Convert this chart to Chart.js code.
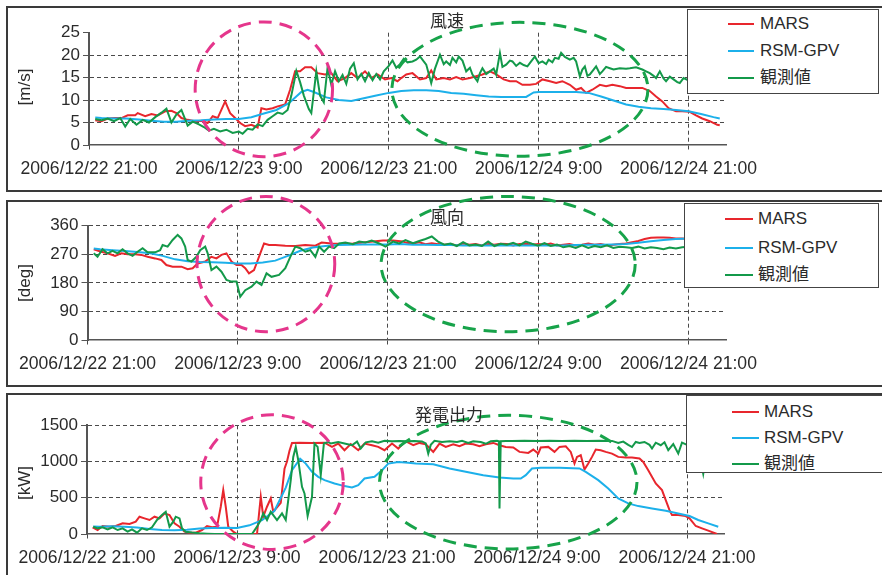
<!DOCTYPE html>
<html>
<head>
<meta charset="utf-8">
<script src="https://cdn.jsdelivr.net/npm/chart.js@4.4.0/dist/chart.umd.min.js"></script>
<style>
body { margin: 0; width: 882px; height: 575px; overflow: hidden; background: #fff; position: relative;
       font-family: "Liberation Sans", "Noto Sans CJK JP", sans-serif; color: #2b2b2b; }
.frame { position: absolute; left: 6px; width: 920px; border: 2px solid #3a3a3a; box-sizing: border-box; z-index: 0; }
canvas { position: absolute; left: 0; top: 0; z-index: 1; }
.title { position: absolute; font-family: "Noto Sans CJK JP", sans-serif; font-size: 17px; line-height: 20px; white-space: nowrap; z-index: 2; }
.unit { position: absolute; font-size: 17px; line-height: 20px; white-space: nowrap; transform: translate(-50%, -50%) rotate(-90deg); z-index: 2; }
.legend { position: absolute; background: #fff; border: 1.5px solid #444; box-sizing: border-box; z-index: 3; }
.legend .sw { position: absolute; height: 2.5px; }
.legend .lb { position: absolute; font-size: 17px; line-height: 20px; white-space: nowrap; }
</style>
</head>
<body>
<div class="frame" style="top:6px;height:186px"></div>
<div class="frame" style="top:200px;height:187px"></div>
<div class="frame" style="top:393px;height:200px"></div>
<canvas id="c1" width="882" height="575"></canvas>
<canvas id="c2" width="882" height="575"></canvas>
<canvas id="c3" width="882" height="575"></canvas>
<script>
// x = hours after 2006/12/22 21:00
const xTickHours = [0, 12, 24, 36, 48];
const xTickLabels = ['2006/12/22 21:00', '2006/12/23 9:00', '2006/12/23 21:00', '2006/12/24 9:00', '2006/12/24 21:00'];
const seriesNames = ['MARS', 'RSM-GPV', '観測値'];
const seriesColors = ['#e8262d', '#1cb0ea', '#13994a'];

// 風速 [m/s]
const speedTicks = [0, 5, 10, 15, 20, 25];
const marsSpeed = [[0.5,5.5],[1.0,5.3],[1.5,5.9],[2.1,6.0],[2.6,6.0],[3.1,6.6],[3.7,6.6],[3.9,7.1],[4.5,6.4],[5.0,6.9],[5.5,6.6],[6.1,7.5],[6.6,7.6],[7.0,7.1],[7.4,6.0],[7.9,5.6],[8.5,5.3],[9.0,5.4],[9.5,4.9],[9.9,6.4],[10.3,6.0],[10.9,9.7],[11.3,7.1],[11.7,6.0],[12.1,4.9],[12.5,4.2],[13.0,4.5],[13.5,3.9],[13.8,8.2],[14.2,7.9],[14.7,8.2],[15.1,8.6],[15.7,9.0],[16.1,12.3],[16.5,16.4],[16.9,16.4],[17.3,17.3],[17.8,17.3],[18.3,16.0],[18.9,15.7],[19.4,16.0],[19.9,14.2],[20.5,14.9],[21.0,16.0],[21.5,14.9],[22.1,16.4],[22.6,14.9],[23.1,15.7],[23.7,14.6],[24.2,14.9],[24.7,14.2],[25.0,14.9],[25.4,15.7],[25.9,16.0],[26.5,14.6],[27.0,14.9],[27.4,16.6],[27.8,14.6],[28.4,14.9],[28.9,14.6],[29.4,15.1],[29.9,14.6],[30.5,14.9],[31.0,15.3],[31.5,15.7],[32.1,16.4],[32.6,15.7],[33.2,14.6],[33.7,14.2],[34.2,14.2],[34.7,13.4],[35.3,13.4],[35.8,13.6],[36.3,14.6],[36.9,14.2],[37.4,13.8],[37.9,14.2],[38.5,13.4],[39.0,12.3],[39.4,12.7],[39.8,11.6],[40.3,12.3],[40.9,13.4],[41.4,13.1],[41.9,13.4],[42.5,13.1],[43.0,12.7],[43.5,12.7],[44.3,12.7],[44.9,12.0],[45.4,10.8],[45.9,9.7],[46.4,8.2],[47.0,7.5],[47.5,7.5],[48.1,7.4],[48.6,6.6],[49.1,5.9],[49.7,5.3],[50.3,4.5],[50.5,4.4]];
const rsmSpeed = [[0.5,6.1],[1,6.0],[2,5.9],[3,5.9],[4,5.7],[5,5.4],[6,5.2],[7,5.2],[8,5.4],[9,5.5],[10,5.7],[11,5.8],[12,5.8],[13,6.2],[14,7.0],[15,7.8],[16,9.3],[17,11.8],[17.5,12.3],[18,11.8],[19,10.6],[20,10.0],[21,9.8],[22,10.4],[23,11.0],[24,11.6],[25,12.0],[26,12.2],[27,12.2],[28,12.0],[29,11.6],[30,11.4],[31,11.1],[32,10.8],[33,10.7],[34,10.7],[35,10.7],[35.6,11.7],[36,11.8],[37,11.8],[38,11.8],[39,11.8],[40,11.6],[41,10.8],[42,9.9],[43,9.0],[44,8.5],[45,8.2],[46,8.0],[47,7.8],[48,7.5],[49,6.9],[50,6.2],[50.5,5.9]];
const obsSpeed = [[0.5,5.8],[1,5.5],[1.5,5.9],[2,5.3],[2.5,6.0],[2.9,4.1],[3.3,5.8],[3.8,4.5],[4.3,5.6],[4.8,5.0],[5.3,6.2],[5.8,7.2],[6.2,8.1],[6.6,5.0],[7.0,6.8],[7.4,7.8],[7.9,4.3],[8.3,5.2],[8.8,4.6],[9.2,4.0],[9.6,3.2],[10.0,3.6],[10.5,3.0],[11.0,3.4],[11.5,2.7],[12.0,3.0],[12.3,2.5],[12.7,3.6],[13.1,3.4],[13.5,4.6],[13.9,4.2],[14.3,5.6],[14.7,6.4],[15.1,7.2],[15.5,6.9],[15.9,7.8],[16.2,11.0],[16.6,16.5],[16.9,14.0],[17.2,11.0],[17.6,8.0],[17.8,7.1],[18.2,16.4],[18.5,11.0],[18.8,9.5],[19.1,17.2],[19.4,13.4],[19.7,16.4],[20.0,14.2],[20.3,15.6],[20.6,13.6],[20.9,17.0],[21.2,18.2],[21.5,14.6],[21.8,15.8],[22.1,14.2],[22.4,16.0],[22.7,14.4],[23.0,15.8],[23.3,14.6],[23.6,16.4],[24.0,17.6],[24.3,18.8],[24.6,17.2],[24.9,18.0],[25.2,19.2],[25.5,18.4],[25.9,18.6],[26.2,19.0],[26.5,19.7],[26.8,18.6],[27.0,17.9],[27.4,13.8],[27.7,17.0],[28.1,20.1],[28.4,18.0],[28.6,18.6],[28.9,17.8],[29.1,19.4],[29.4,18.4],[29.6,19.7],[29.9,18.8],[30.2,16.4],[30.5,17.2],[30.7,15.7],[31.1,14.2],[31.3,16.0],[31.5,17.1],[31.8,15.8],[32.1,16.4],[32.4,17.0],[32.6,15.7],[32.9,20.5],[33.1,17.4],[33.4,17.9],[33.7,18.8],[33.9,18.6],[34.2,17.6],[34.5,18.3],[34.8,17.8],[35.1,17.5],[35.4,18.6],[35.7,19.7],[36.0,18.2],[36.3,18.6],[36.6,18.0],[36.8,19.0],[37.1,18.4],[37.3,19.4],[37.6,19.2],[37.8,20.5],[38.1,19.6],[38.5,19.0],[38.8,19.4],[39.0,18.6],[39.3,15.3],[39.5,16.8],[39.7,17.5],[39.9,15.4],[40.1,15.7],[40.4,16.8],[40.6,17.5],[40.9,15.8],[41.1,16.4],[41.4,17.4],[41.7,17.1],[42.0,16.8],[42.5,17.1],[43.0,17.0],[43.3,17.1],[43.8,17.3],[44.3,16.8],[44.6,16.4],[44.9,16.0],[45.2,15.4],[45.4,14.9],[45.7,16.4],[46.0,14.8],[46.2,14.2],[46.5,15.2],[46.8,14.6],[47.1,14.0],[47.3,13.8],[47.6,14.9],[48.0,14.4],[48.5,14.8],[49.0,14.2],[49.5,14.6],[50.0,14.0],[50.5,14.3]];

// 風向 [deg]
const dirTicks = [0, 90, 180, 270, 360];
const marsDir = [[0.5,286],[1.1,278],[1.6,273],[2.2,265],[2.7,273],[3.2,270],[3.8,270],[4.3,268],[4.8,262],[5.4,257],[5.9,252],[6.3,236],[6.8,231],[7.5,231],[8.0,223],[8.4,226],[8.8,241],[9.4,247],[9.9,262],[10.3,257],[10.7,268],[11.1,273],[11.5,247],[11.9,236],[12.3,236],[12.6,226],[12.9,210],[13.3,220],[13.5,241],[13.8,273],[14.1,304],[14.5,299],[15.0,299],[15.8,297],[16.6,296],[17.4,299],[18.2,297],[18.7,307],[19.5,304],[20.3,302],[21.2,304],[22.0,307],[22.8,310],[23.6,313],[24.4,313],[25.2,310],[25.5,306],[26,304],[26.5,308],[27,302],[27.5,305],[28,302],[28.5,300],[29,302],[29.5,298],[30,304],[30.5,300],[31,302],[31.5,298],[32,302],[32.5,300],[33,303],[33.5,302],[34,298],[34.5,302],[35,303],[35.5,300],[36,302],[36.5,300],[37,304],[37.5,298],[38,300],[38.5,302],[39,298],[39.5,300],[40,304],[40.5,300],[41,302],[41.5,298],[42,300],[42.5,302],[43,304],[43.5,308],[44,312],[44.5,318],[45,322],[45.5,323],[46,323],[46.5,322],[47,320],[47.5,320],[48,318],[48.5,318],[49,318],[49.5,317],[50,317],[50.5,316]];
const rsmDir = [[0.5,288],[1,286],[2,283],[3,280],[4,277],[5,273],[6,265],[7,254],[8,248],[9,246],[10,245],[11,243],[12,241],[13,241],[14,244],[15,250],[16,265],[17,281],[18,291],[19,296],[20,299],[21,300],[22,301],[23,301],[24,301],[25,302],[26,300],[27,300],[28,299],[29,299],[30,298],[31,298],[32,298],[33,298],[34,298],[35,298],[36,298],[37,298],[38,298],[39,299],[40,300],[41,300],[42,301],[43,302],[44,306],[45,311],[46,315],[47,318],[48,320],[49,321],[50,321],[50.5,321]];
const obsDir = [[0.5,273],[0.8,262],[1.2,286],[1.6,273],[2.0,281],[2.4,273],[2.8,286],[3.2,273],[3.6,265],[4.0,278],[4.4,289],[4.8,276],[5.4,276],[5.8,283],[6.0,299],[6.4,294],[6.8,315],[7.2,331],[7.5,320],[7.8,294],[8.0,252],[8.3,247],[8.7,262],[9.0,283],[9.4,294],[9.6,273],[9.9,220],[10.3,231],[10.7,215],[11.1,189],[11.5,184],[11.9,184],[12.2,136],[12.6,157],[13.1,168],[13.5,184],[13.9,173],[14.3,210],[14.7,199],[15.3,205],[15.8,226],[16.2,262],[16.6,294],[17.0,289],[17.4,278],[17.8,283],[18.2,262],[18.5,294],[18.9,278],[19.3,294],[19.7,289],[20.1,304],[20.6,307],[21.2,302],[21.7,310],[22.2,307],[22.7,313],[23.3,304],[23.8,294],[24.4,310],[24.9,304],[25.4,315],[26.0,305],[26.5,312],[27.0,318],[27.5,326],[28.0,310],[28.5,300],[29.0,304],[29.5,296],[30.0,308],[30.5,298],[31.0,301],[31.5,296],[32.0,310],[32.5,296],[33.0,303],[33.5,300],[34.0,306],[34.5,298],[35.0,310],[35.5,303],[36.0,297],[36.5,305],[37.0,296],[37.5,301],[38.0,292],[38.5,296],[39.0,290],[39.5,298],[40.0,290],[40.5,296],[41.0,292],[41.5,298],[42.0,290],[42.5,294],[43.0,292],[43.5,290],[44.0,294],[44.5,288],[45.0,292],[45.5,290],[46.0,286],[46.5,291],[47.0,288],[47.5,292],[48.0,294],[48.5,292],[49.0,296],[49.5,294],[50.0,297],[50.5,296]];

// 発電出力 [kW]
const powerTicks = [0, 500, 1000, 1500];
const marsPower = [[0.45,92],[0.85,55],[1.25,110],[1.8,101],[2.3,110],[2.85,147],[3.4,138],[3.9,170],[4.2,239],[4.6,216],[5.0,193],[5.4,239],[5.8,216],[6.2,284],[6.6,261],[7.0,147],[7.4,101],[7.8,32],[8.2,18],[8.7,18],[9.2,55],[9.6,110],[10.0,92],[10.4,101],[10.7,376],[10.9,606],[11.1,376],[11.3,101],[11.7,32],[12.0,0],[13.6,0],[13.9,514],[14.1,239],[14.4,376],[14.7,491],[14.9,307],[15.2,367],[15.5,430],[15.8,900],[16.0,1000],[16.2,1150],[16.4,1257],[17,1260],[18,1257],[19,1260],[19.6,1202],[20.1,1248],[20.6,1156],[21.1,1240],[21.7,1156],[22.2,1248],[22.8,1225],[23.3,1202],[23.8,1156],[24.4,1248],[24.9,1179],[25.4,1270],[25.6,1270],[26.1,1225],[26.6,1257],[27.1,1238],[27.7,1133],[28.2,1248],[28.7,1202],[29.3,1238],[29.8,1211],[30.3,1248],[30.9,1238],[31.4,1211],[31.9,1238],[32.5,1257],[33.0,1225],[33.5,1202],[34.1,1193],[34.6,1133],[35.3,1119],[35.7,1165],[36.1,1110],[36.3,1193],[36.9,1202],[37.4,1133],[37.8,1202],[38.3,1211],[38.7,1133],[39.0,972],[39.2,1064],[39.5,1087],[39.8,890],[40.1,972],[40.4,1064],[40.7,1165],[41.1,1156],[41.5,1133],[42.0,1110],[42.5,1064],[43.1,1055],[43.6,1055],[44.2,1041],[44.5,995],[44.9,881],[45.5,697],[46.0,606],[46.3,468],[46.6,330],[46.8,261],[47.3,261],[47.9,248],[48.2,216],[48.7,110],[49.2,78],[49.7,46],[50.4,0]];
const rsmPower = [[0.5,105],[1,100],[2,108],[3,100],[4,90],[5,70],[6,55],[7,52],[8,60],[9,75],[10,82],[11,85],[12,82],[13,120],[14,190],[15,320],[15.9,640],[16.4,880],[17.05,1040],[17.5,972],[18.0,858],[18.5,789],[19.0,743],[19.8,697],[20.6,661],[21.2,642],[21.7,674],[22.2,766],[23.0,789],[23.6,881],[24.1,972],[24.9,995],[25.7,982],[26.3,972],[27.7,963],[29.0,904],[30.3,858],[31.7,812],[33.0,780],[34.1,766],[34.7,766],[35.1,812],[35.6,904],[36.3,913],[37.8,913],[39.4,904],[39.9,858],[40.9,743],[41.7,628],[42.5,491],[43.3,422],[44.1,385],[45.2,353],[46.3,321],[47.3,284],[48.2,248],[48.9,193],[49.7,147],[50.5,101]];
const obsPower = [[0.5,100],[0.85,78],[1.25,92],[1.65,64],[2.05,92],[2.45,55],[2.85,78],[3.25,32],[3.6,64],[4.0,18],[4.4,78],[4.8,55],[5.2,92],[5.6,193],[6.0,261],[6.3,307],[6.6,101],[6.9,170],[7.1,239],[7.4,216],[7.6,78],[7.9,32],[8.4,20],[9.0,10],[9.6,5],[10.2,0],[11,0],[12,0],[13.2,0],[13.6,101],[13.9,193],[14.1,284],[14.4,193],[14.7,307],[14.9,261],[15.2,193],[15.6,284],[15.9,193],[16.3,743],[16.5,1064],[16.7,1202],[16.9,1018],[17.2,651],[17.4,560],[17.65,250],[18.0,514],[18.2,1248],[18.45,1202],[18.7,812],[18.95,1248],[19.3,1270],[19.5,1248],[20.1,1270],[20.6,1250],[21.2,1225],[21.6,1275],[21.9,1179],[22.3,1265],[22.8,1280],[23.3,1260],[23.8,1285],[24.4,1280],[25.0,1285],[25.6,1280],[26.2,1282],[26.8,1278],[27.1,1250],[27.3,1110],[27.5,1230],[27.8,1285],[28.4,1270],[29.0,1280],[29.6,1270],[30.0,1285],[30.5,1255],[30.9,1280],[31.5,1270],[31.9,1245],[32.3,1280],[32.8,1285],[32.95,1280],[33.0,353],[33.1,1280],[33.5,1285],[34,1285],[35,1288],[36,1285],[37,1288],[38,1285],[39,1288],[40,1285],[41,1288],[42,1285],[42.5,1255],[42.9,1275],[43.3,1230],[43.6,1200],[43.9,1270],[44.2,1255],[44.6,1270],[45.0,1230],[45.2,1180],[45.5,1260],[45.9,1225],[46.2,1265],[46.5,1156],[46.9,1240],[47.3,1110],[47.6,1260],[48.0,1230],[48.5,1200],[49.0,1100],[49.3,830],[49.6,1150],[50.0,1200],[50.5,1180]];

// dashed circles: [center hour, center value, radius in hours, radius in value units]
const pinkSpeed = [14.0, 12.4, 5.5, 15.0];
const greenSpeed = [34.5, 12.4, 10.25, 14.9];
const pinkDir = [14.25, 239, 5.5, 213];
const greenDir = [33.6, 239, 10.15, 213];
const pinkPower = [14.8, 716, 5.7, 929];
const greenPower = [33.7, 716, 10.3, 922];

const ellipsePlugin = {
    id: 'ellipses',
    afterDatasetsDraw(chart, args, opts) {
        const { ctx } = chart;
        const x = chart.scales.x, y = chart.scales.y;
        (opts.items || []).forEach(e => {
            const cx = x.getPixelForValue(e.d[0]);
            const cy = y.getPixelForValue(e.d[1]);
            const rx = Math.abs(x.getPixelForValue(e.d[0] + e.d[2]) - cx);
            const ry = Math.abs(y.getPixelForValue(e.d[1] + e.d[3]) - cy);
            ctx.save();
            ctx.beginPath();
            ctx.ellipse(cx, cy, rx, ry, 0, 0, Math.PI * 2);
            ctx.setLineDash([13, 8]);
            ctx.lineWidth = 3;
            ctx.strokeStyle = e.color;
            ctx.stroke();
            ctx.restore();
        });
    }
};

const panels = [
    { id: 'c1', title: '風速', titlePos: [430, 10], unit: '[m/s]', unitPos: [25, 87],
      ticks: speedTicks, series: [marsSpeed, rsmSpeed, obsSpeed], ellipses: [pinkSpeed, greenSpeed],
      area: [89, 726, 32.7, 145], topGrid: false,
      legend: { box: [687, 9, 192, 85], rows: [14, 41, 68], sw: [40, 26], text: 72 } },
    { id: 'c2', title: '風向', titlePos: [430, 206], unit: '[deg]', unitPos: [25, 283],
      ticks: dirTicks, series: [marsDir, rsmDir, obsDir], ellipses: [pinkDir, greenDir],
      area: [87.5, 726, 225.7, 340], topGrid: true,
      legend: { box: [684, 203, 195, 85], rows: [15, 44, 71], sw: [40, 28], text: 73 } },
    { id: 'c3', title: '発電出力', titlePos: [415, 404], unit: '[kW]', unitPos: [25, 483],
      ticks: powerTicks, series: [marsPower, rsmPower, obsPower], ellipses: [pinkPower, greenPower],
      area: [87, 724.5, 425.3, 534], topGrid: true,
      legend: { box: [686, 395, 220, 78], rows: [16, 42, 68], sw: [45, 27], text: 77 } }
];

const W = 882, H = 575, X_AXIS_H = 40;
const textColor = '#2b2b2b';
const gridColor = '#4a4a4a';
const seriesOrder = [2, 1, 0];

panels.forEach(p => {
    const [left, right, top, bottom] = p.area;
    const yMax = p.ticks[p.ticks.length - 1];

    new Chart(document.getElementById(p.id), {
        type: 'line',
        data: {
            datasets: p.series.map((s, i) => ({
                label: seriesNames[i],
                data: s.map(pt => ({ x: pt[0], y: pt[1] })),
                borderColor: seriesColors[i],
                backgroundColor: seriesColors[i],
                borderWidth: 2,
                pointRadius: 0,
                tension: 0,
                fill: false,
                order: seriesOrder[i],
            })),
        },
        options: {
            responsive: false,
            animation: false,
            devicePixelRatio: 1,
            layout: { padding: { left: 0, top: top, right: W - right, bottom: H - bottom - X_AXIS_H } },
            plugins: {
                legend: { display: false },
                tooltip: { enabled: false },
                ellipses: { items: p.ellipses.map((d, i) => ({ d, color: i === 0 ? '#e5368c' : '#17a34a' })) },
            },
            scales: {
                x: {
                    type: 'linear',
                    min: 0,
                    max: 51,
                    afterFit: s => { s.height = X_AXIS_H; },
                    afterBuildTicks: s => { s.ticks = xTickHours.map(v => ({ value: v })); },
                    border: { color: '#555', width: 1.5, dash: [4, 3] },
                    grid: {
                        color: c => (c.tick && c.tick.value === 0) ? 'rgba(0,0,0,0)' : gridColor,
                        lineWidth: 1,
                        tickLength: 6,
                        tickColor: gridColor,
                        tickBorderDash: [4, 3],
                    },
                    ticks: {
                        autoSkip: false,
                        maxRotation: 0,
                        padding: 8,
                        color: textColor,
                        font: { family: 'Liberation Sans', size: 17.6 },
                        callback: (v, i) => xTickLabels[i],
                    },
                },
                y: {
                    min: p.ticks[0],
                    max: yMax,
                    afterFit: s => { s.width = left; },
                    afterBuildTicks: s => { s.ticks = p.ticks.map(v => ({ value: v })); },
                    border: { color: '#555', width: 2, dash: [4, 3] },
                    grid: {
                        color: c => {
                            if (!c.tick) return gridColor;
                            if (c.tick.value === 0) return 'rgba(0,0,0,0)';
                            if (c.tick.value === yMax && !p.topGrid) return 'rgba(0,0,0,0)';
                            return gridColor;
                        },
                        lineWidth: 1,
                        tickLength: 6,
                        tickColor: '#555',
                        tickBorderDash: [],
                    },
                    ticks: {
                        autoSkip: false,
                        padding: 3,
                        color: textColor,
                        font: { family: 'Liberation Sans', size: 17 },
                        callback: v => String(v),
                    },
                },
            },
        },
        plugins: [ellipsePlugin],
    });

    // title and unit label
    const t = document.createElement('div');
    t.className = 'title';
    t.style.left = p.titlePos[0] + 'px';
    t.style.top = p.titlePos[1] + 'px';
    t.textContent = p.title;
    document.body.appendChild(t);

    const u = document.createElement('div');
    u.className = 'unit';
    u.style.left = p.unitPos[0] + 'px';
    u.style.top = p.unitPos[1] + 'px';
    u.textContent = p.unit;
    document.body.appendChild(u);

    // legend box
    const lg = document.createElement('div');
    lg.className = 'legend';
    const [bx, by, bw, bh] = p.legend.box;
    Object.assign(lg.style, { left: bx + 'px', top: by + 'px', width: bw + 'px', height: bh + 'px' });
    seriesNames.forEach((name, i) => {
        const sw = document.createElement('div');
        sw.className = 'sw';
        Object.assign(sw.style, {
            left: p.legend.sw[0] + 'px', width: p.legend.sw[1] + 'px',
            top: (p.legend.rows[i] - 1.5) + 'px', background: seriesColors[i]
        });
        const lb = document.createElement('div');
        lb.className = 'lb';
        Object.assign(lb.style, { left: p.legend.text + 'px', top: (p.legend.rows[i] - 10) + 'px' });
        lb.textContent = name;
        lg.appendChild(sw);
        lg.appendChild(lb);
    });
    document.body.appendChild(lg);
});
</script>
</body>
</html>
